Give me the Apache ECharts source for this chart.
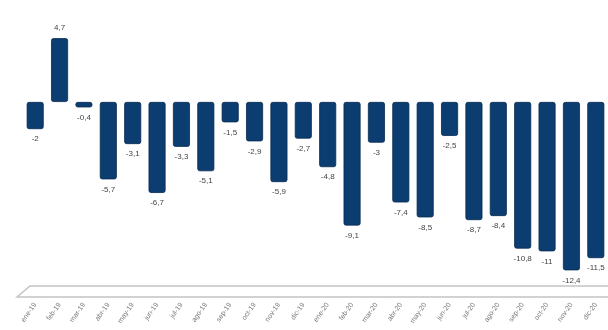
<!DOCTYPE html>
<html>
<head>
<meta charset="utf-8">
<script src="https://cdn.jsdelivr.net/npm/echarts@6/dist/echarts.min.js"></script>
<style>html,body{margin:0;padding:0;background:#fff}#c{width:608px;height:330px}</style>
</head>
<body>
<div id="c"></div>
<script>
var categories = ["ene-19","feb-19","mar-19","abr-19","may-19","jun-19","jul-19","ago-19","sep-19","oct-19","nov-19","dic-19",
                  "ene-20","feb-20","mar-20","abr-20","may-20","jun-20","jul-20","ago-20","sep-20","oct-20","nov-20","dic-20"];
var values = [-2, 4.7, -0.4, -5.7, -3.1, -6.7, -3.3, -5.1, -1.5, -2.9, -5.9, -2.7,
              -4.8, -9.1, -3, -7.4, -8.5, -2.5, -8.7, -8.4, -10.8, -11, -12.4, -11.5];

var chart = echarts.init(document.getElementById('c'), null, {renderer: 'canvas'});
var data = values.map(function (v) {
  return {value: v, label: {position: v >= 0 ? 'top' : 'bottom'}};
});
chart.setOption({
  animation: false,
  grid: {left: 23, top: 20.5, width: 586, height: 277},
  graphic: [{
    type: 'polygon', z: -1,
    shape: {points: [[17, 297], [30, 286], [612, 286], [612, 297]]},
    style: {fill: '#fff', stroke: '#c4c4c4', lineWidth: 1.6}
  }],
  xAxis: {
    type: 'category', data: categories,
    axisLine: {show: false, onZero: false},
    axisTick: {show: false},
    axisLabel: {rotate: 55, fontSize: 7, color: '#777', margin: 6, interval: 0, fontFamily: 'Liberation Sans'}
  },
  yAxis: {type: 'value', min: -14.4, max: 6, show: false, splitLine: {show: false}},
  series: [{
    type: 'bar', data: data, barWidth: 17,
    itemStyle: {color: '#0c3d70', borderRadius: 2, borderColor: '#072b52', borderWidth: 0.8},
    label: {
      show: true, fontSize: 8, color: '#444', distance: 6, fontFamily: 'Liberation Sans',
      formatter: function (p) { return String(p.value).replace('.', ','); }
    }
  }]
});
</script>
</body>
</html>
